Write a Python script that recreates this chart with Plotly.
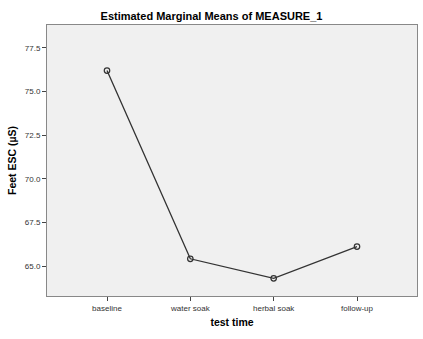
import plotly.graph_objects as go

categories = ["baseline", "water soak", "herbal soak", "follow-up"]
means = [76.19, 65.42, 64.30, 66.12]
y_ticks = [65.0, 67.5, 70.0, 72.5, 75.0, 77.5]
y_tick_labels = ["65.0", "67.5", "70.0", "72.5", "75.0", "77.5"]

fig = go.Figure()
fig.add_trace(go.Scatter(
    x=list(range(len(categories))), y=means, mode="lines+markers",
    line=dict(color="#333333", width=1.3),
    marker=dict(symbol="circle-open", size=5.5, color="#333333", line=dict(width=1.2)),
    showlegend=False,
))

fig.update_layout(
    width=423, height=339,
    margin=dict(l=47, r=6, t=25, b=43),
    paper_bgcolor="white", plot_bgcolor="#f0f0f0",
    title=dict(text="<b>Estimated Marginal Means of MEASURE_1</b>",
               x=0.5, xanchor="center", y=1 - 16/339, yanchor="middle",
               font=dict(family="Arial, Liberation Sans", size=11, color="#000")),
    xaxis=dict(
        range=[-0.72, 3.72], tickvals=list(range(len(categories))), ticktext=categories,
        showgrid=False, zeroline=False, ticks="outside", ticklen=4, tickcolor="#444",
        tickfont=dict(family="Arial, Liberation Sans", size=8, color="#333"),
        showline=True, linecolor="#888", linewidth=1, mirror=True,
        title=dict(text="<b>test time</b>", standoff=7,
                   font=dict(family="Arial, Liberation Sans", size=10.5, color="#000")),
    ),
    yaxis=dict(
        range=[63.29, 78.8], tickvals=y_ticks, ticktext=y_tick_labels,
        showgrid=False, zeroline=False, ticks="outside", ticklen=4, tickcolor="#444",
        tickfont=dict(family="Arial, Liberation Sans", size=8, color="#333"),
        showline=True, linecolor="#888", linewidth=1, mirror=True,
        title=dict(text="<b>Feet ESC (µS)</b>", standoff=6,
                   font=dict(family="Arial, Liberation Sans", size=10.5, color="#000")),
    ),
)

fig.write_html("out.html")
